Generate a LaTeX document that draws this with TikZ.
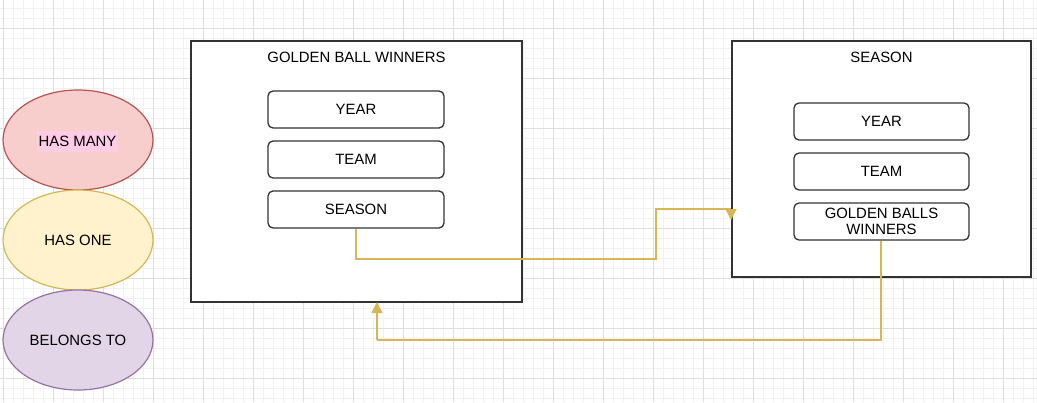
\documentclass[tikz,border=0pt]{standalone}
\usepackage{fontspec}
\setmainfont{Liberation Sans}
\usetikzlibrary{arrows.meta,shapes.geometric}
\definecolor{gridminor}{HTML}{F1F1F1}
\definecolor{gridmajor}{HTML}{DEDEDE}
\definecolor{redfill}{HTML}{F8CECC}
\definecolor{redline}{HTML}{B85450}
\definecolor{yelfill}{HTML}{FFF2CC}
\definecolor{yelline}{HTML}{D6B656}
\definecolor{purfill}{HTML}{E1D5E7}
\definecolor{purline}{HTML}{9673A6}
\definecolor{hilite}{HTML}{FFCCE6}
\definecolor{boxline}{HTML}{333333}
\tikzset{
  txt/.style={font=\fontsize{14.9}{17}\selectfont, text=black, align=center, inner sep=0pt},
  oval/.style={ellipse, draw, line width=1.2pt, minimum width=150pt, minimum height=100pt, inner sep=0pt, txt},
  bigbox/.style={draw=boxline, line width=1.3pt, fill=white},
  field/.style={draw=boxline, line width=1.3pt, rounded corners=5pt, fill=white, minimum height=37pt, txt},
  conn/.style={draw=yelline, line width=1.4pt},
  tip/.style={-{Triangle[length=11pt,width=11pt]}}
}
\begin{document}
\begin{tikzpicture}[x=1pt,y=-1pt]
\useasboundingbox (0,0) rectangle (1037,402);
\fill[white] (0,0) rectangle (1037,402);
% grid
\foreach \x in {3,13,...,1033} \draw[gridminor, line width=0.8pt] (\x,0) -- (\x,402);
\foreach \y in {8,18,...,398} \draw[gridminor, line width=0.8pt] (0,\y) -- (1037,\y);
\foreach \x in {3,53,...,1003} \draw[gridmajor, line width=0.8pt] (\x,0) -- (\x,402);
\foreach \y in {28,78,...,378} \draw[gridmajor, line width=0.8pt] (0,\y) -- (1037,\y);
% legend ellipses
\node[oval, fill=redfill, draw=redline] (hasmany) at (78,140) {};
\node[txt, fill=hilite, minimum width=81pt, minimum height=21pt] (hasmanyt) at (77.5,141) {HAS MANY};
\node[oval, fill=yelfill, draw=yelline] (hasone) at (78,240) {HAS ONE};
\node[oval, fill=purfill, draw=purline] (belongs) at (78,340) {BELONGS TO};
% left entity
\node[bigbox, minimum width=331pt, minimum height=261pt] (lbox) at (356.5,171.5) {};
\node[txt] (ltitle) at (356.5,57.5) {GOLDEN BALL WINNERS};
\node[field, minimum width=176pt] (lyear) at (356,109.5) {YEAR};
\node[field, minimum width=176pt] (lteam) at (356,159.5) {TEAM};
\node[field, minimum width=176pt] (lseason) at (356,209.5) {SEASON};
% right entity
\node[bigbox, minimum width=299pt, minimum height=236pt] (rbox) at (881.5,159) {};
\node[txt] (rtitle) at (881.5,57.5) {SEASON};
\node[field, minimum width=175pt] (ryear) at (881.5,121.5) {YEAR};
\node[field, minimum width=175pt] (rteam) at (881.5,171.5) {TEAM};
\node[field, minimum width=175pt, font=\fontsize{14.9}{15.5}\selectfont] (rgbw) at (881.5,221.5) {GOLDEN BALLS\\WINNERS};
% connectors
\coordinate (b1) at (656,259);
\coordinate (b2) at (731,209);
\coordinate (e1) at (731,220);
\coordinate (b3) at (377,340);
\coordinate (e2) at (377,302);
\draw[conn] (lseason.south) |- (b1) |- (b2);
\draw[conn, tip] (b2) -- (e1);
\draw[conn] ([xshift=-0.5pt]rgbw.south) |- (b3);
\draw[conn, tip] (b3) -- (e2);
\end{tikzpicture}
\end{document}
